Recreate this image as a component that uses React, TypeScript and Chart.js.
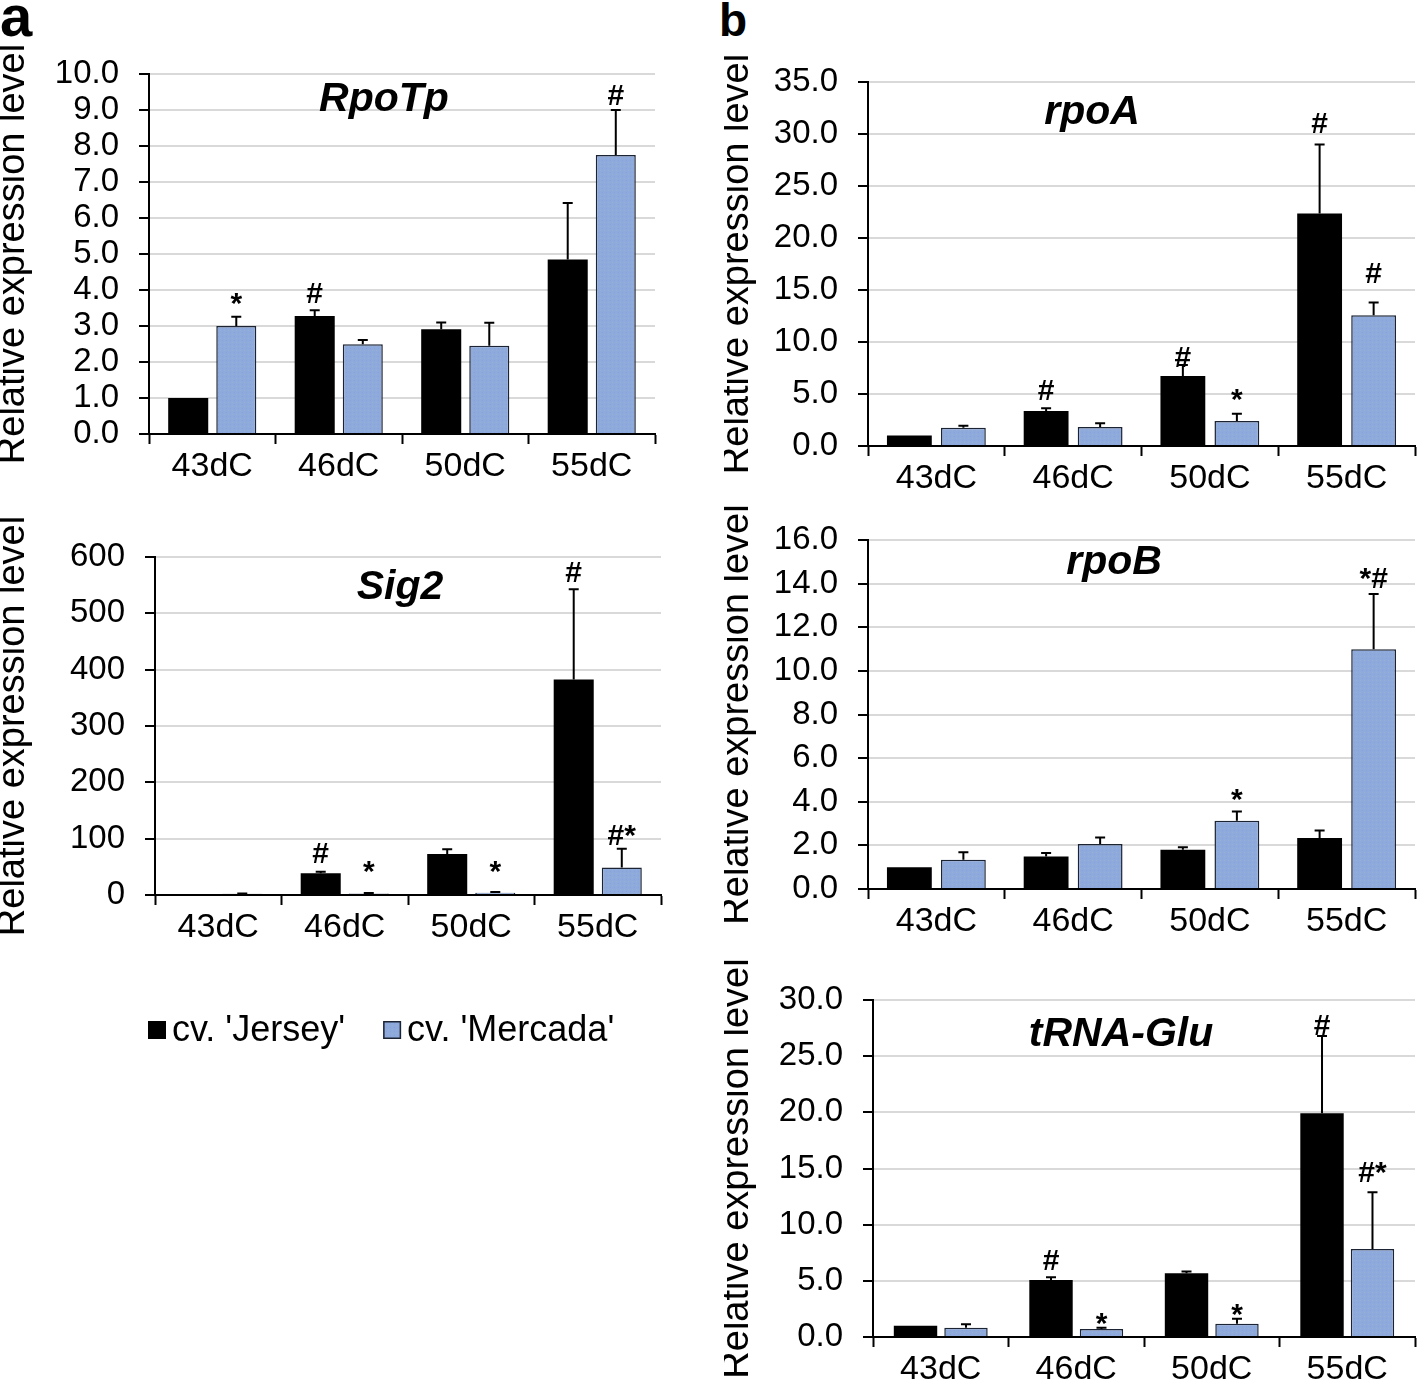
import React, { useEffect, useRef } from 'react';
import { Chart, registerables } from 'chart.js';

Chart.register(...registerables);

const FONT = "'Liberation Sans', Arial, Helvetica, sans-serif";

const categories = ['43dC', '46dC', '50dC', '55dC'];
const seriesLabels = ["cv. 'Jersey'", "cv. 'Mercada'"];
const yAxisTitle = 'Relative expression level';

// RpoTp
const rpoTpJersey = [1.0, 3.28, 2.91, 4.85];
const rpoTpJerseyErr = [0, 0.16, 0.19, 1.57];
const rpoTpMercada = [3.0, 2.49, 2.45, 7.75];
const rpoTpMercadaErr = [0.26, 0.12, 0.64, 1.25];
const rpoTpJerseyMarks = ['', '#', '', ''];
const rpoTpJerseyMarkY = [0, 3.64, 0, 0];
const rpoTpMercadaMarks = ['*', '', '', '#'];
const rpoTpMercadaMarkY = [3.36, 0, 0, 9.15];

// Sig2
const sig2Jersey = [1.0, 38.6, 73, 382.6];
const sig2JerseyErr = [0, 2.5, 8, 160];
const sig2Mercada = [2.0, 2.5, 4, 48.6];
const sig2MercadaErr = [0.5, 1, 1.5, 33.3];
const sig2JerseyMarks = ['', '#', '', '#'];
const sig2JerseyMarkY = [0, 57, 0, 555];
const sig2MercadaMarks = ['', '*', '*', '#*'];
const sig2MercadaMarkY = [0, 25, 25, 89];

// rpoA
const rpoAJersey = [1.0, 3.36, 6.72, 22.36];
const rpoAJerseyErr = [0, 0.26, 1.06, 6.64];
const rpoAMercada = [1.76, 1.83, 2.4, 12.58];
const rpoAMercadaErr = [0.19, 0.35, 0.7, 1.22];
const rpoAJerseyMarks = ['', '#', '#', '#'];
const rpoAJerseyMarkY = [0, 4.42, 7.62, 30.07];
const rpoAMercadaMarks = ['', '', '*', '#'];
const rpoAMercadaMarkY = [0, 0, 3.55, 15.66];

// rpoB
const rpoBJersey = [1.0, 1.49, 1.8, 2.34];
const rpoBJerseyErr = [0, 0.16, 0.11, 0.34];
const rpoBMercada = [1.34, 2.06, 3.13, 10.99];
const rpoBMercadaErr = [0.35, 0.3, 0.42, 2.54];
const rpoBJerseyMarks = ['', '', '', ''];
const rpoBJerseyMarkY = [0, 0, 0, 0];
const rpoBMercadaMarks = ['', '', '*', '*#'];
const rpoBMercadaMarkY = [0, 0, 3.68, 13.8];

// tRNA-Glu
const trnaJersey = [1.0, 5.07, 5.67, 19.92];
const trnaJerseyErr = [0, 0.24, 0.15, 6.88];
const trnaMercada = [0.83, 0.71, 1.19, 7.84];
const trnaMercadaErr = [0.3, 0.12, 0.44, 5.04];
const trnaJerseyMarks = ['', '#', '', '#'];
const trnaJerseyMarkY = [0, 5.97, 0, 26.9];
const trnaMercadaMarks = ['', '*', '*', '#*'];
const trnaMercadaMarkY = [0, 0.38, 1.13, 13.83];

type Panel = {
  title: string;
  jersey: number[];
  jerseyErr: number[];
  mercada: number[];
  mercadaErr: number[];
  jMarks: string[];
  jMarkY: number[];
  mMarks: string[];
  mMarkY: number[];
  yMax: number;
  yStep: number;
  decimals: number;
  left: number;
  top: number;
  width: number;
  height: number;
  yAxisW: number;
  xAxisH: number;
  padTop: number;
  padRight: number;
  titleDX: number;
  titleDY: number;
  catPct: number;
  barPct: number;
  legend?: boolean;
};

const panels: Panel[] = [
  {
    title: 'RpoTp', jersey: rpoTpJersey, jerseyErr: rpoTpJerseyErr, mercada: rpoTpMercada, mercadaErr: rpoTpMercadaErr,
    jMarks: rpoTpJerseyMarks, jMarkY: rpoTpJerseyMarkY, mMarks: rpoTpMercadaMarks, mMarkY: rpoTpMercadaMarkY,
    yMax: 10, yStep: 1, decimals: 1,
    left: 0, top: 34, width: 660, height: 460, yAxisW: 149, xAxisH: 60, padTop: 40, padRight: 5,
    titleDX: 235, titleDY: 26, catPct: 0.76, barPct: 0.833,
  },
  {
    title: 'Sig2', jersey: sig2Jersey, jerseyErr: sig2JerseyErr, mercada: sig2Mercada, mercadaErr: sig2MercadaErr,
    jMarks: sig2JerseyMarks, jMarkY: sig2JerseyMarkY, mMarks: sig2MercadaMarks, mMarkY: sig2MercadaMarkY,
    yMax: 600, yStep: 100, decimals: 0,
    left: 0, top: 517, width: 666, height: 538, yAxisW: 155, xAxisH: 160, padTop: 40, padRight: 5,
    titleDX: 245, titleDY: 31, catPct: 0.76, barPct: 0.833, legend: true,
  },
  {
    title: 'rpoA', jersey: rpoAJersey, jerseyErr: rpoAJerseyErr, mercada: rpoAMercada, mercadaErr: rpoAMercadaErr,
    jMarks: rpoAJerseyMarks, jMarkY: rpoAJerseyMarkY, mMarks: rpoAMercadaMarks, mMarkY: rpoAMercadaMarkY,
    yMax: 35, yStep: 5, decimals: 1,
    left: 724, top: 42, width: 694, height: 464, yAxisW: 144, xAxisH: 60, padTop: 40, padRight: 3,
    titleDX: 224, titleDY: 31, catPct: 0.79, barPct: 0.83,
  },
  {
    title: 'rpoB', jersey: rpoBJersey, jerseyErr: rpoBJerseyErr, mercada: rpoBMercada, mercadaErr: rpoBMercadaErr,
    jMarks: rpoBJerseyMarks, jMarkY: rpoBJerseyMarkY, mMarks: rpoBMercadaMarks, mMarkY: rpoBMercadaMarkY,
    yMax: 16, yStep: 2, decimals: 1,
    left: 724, top: 500, width: 694, height: 449, yAxisW: 144, xAxisH: 60, padTop: 40, padRight: 3,
    titleDX: 246, titleDY: 23, catPct: 0.79, barPct: 0.83,
  },
  {
    title: 'tRNA-Glu', jersey: trnaJersey, jerseyErr: trnaJerseyErr, mercada: trnaMercada, mercadaErr: trnaMercadaErr,
    jMarks: trnaJerseyMarks, jMarkY: trnaJerseyMarkY, mMarks: trnaMercadaMarks, mMarkY: trnaMercadaMarkY,
    yMax: 30, yStep: 5, decimals: 1,
    left: 724, top: 960, width: 694, height: 422, yAxisW: 149, xAxisH: 45, padTop: 40, padRight: 3,
    titleDX: 248, titleDY: 35, catPct: 0.745, barPct: 0.86,
  },
];

function makePattern(): CanvasPattern | string {
  const c = document.createElement('canvas');
  c.width = 4;
  c.height = 4;
  const g = c.getContext('2d');
  if (!g) return '#8eaadc';
  g.fillStyle = '#8eaadc';
  g.fillRect(0, 0, 4, 4);
  g.fillStyle = '#9aaed2';
  g.fillRect(0, 0, 1, 1);
  g.fillStyle = '#86a4da';
  g.fillRect(2, 2, 1, 1);
  return g.createPattern(c, 'repeat') || '#8eaadc';
}

function ChartPanel({ p }: { p: Panel }) {
  const ref = useRef<HTMLCanvasElement | null>(null);

  useEffect(() => {
    if (!ref.current) return;
    const blue = makePattern();

    const overlay = {
      id: 'overlay',
      afterDatasetsDraw(chart: any) {
        const ctx = chart.ctx;
        const y = chart.scales.y;
        const vals = [p.jersey, p.mercada];
        const errs = [p.jerseyErr, p.mercadaErr];
        const marks = [p.jMarks, p.mMarks];
        const markY = [p.jMarkY, p.mMarkY];
        ctx.save();
        for (let d = 0; d < 2; d++) {
          const meta = chart.getDatasetMeta(d);
          meta.data.forEach((bar: any, i: number) => {
            const e = errs[d][i];
            if (e > 0) {
              const yTop = y.getPixelForValue(vals[d][i] + e);
              ctx.strokeStyle = '#000';
              ctx.lineWidth = 2;
              ctx.beginPath();
              ctx.moveTo(bar.x, bar.y);
              ctx.lineTo(bar.x, yTop);
              ctx.moveTo(bar.x - 5, yTop);
              ctx.lineTo(bar.x + 5, yTop);
              ctx.stroke();
            }
            const m = marks[d][i];
            if (m) {
              ctx.fillStyle = '#000';
              ctx.font = `bold 30px ${FONT}`;
              ctx.textAlign = 'center';
              ctx.textBaseline = 'alphabetic';
              ctx.fillText(m, bar.x, y.getPixelForValue(markY[d][i]));
            }
          });
        }
        const area = chart.chartArea;
        ctx.fillStyle = '#000';
        ctx.font = `italic bold 41px ${FONT}`;
        ctx.textAlign = 'center';
        ctx.textBaseline = 'middle';
        ctx.fillText(p.title, area.left + p.titleDX, area.top + p.titleDY);
        ctx.restore();
      },
      afterDraw(chart: any) {
        if (!p.legend) return;
        const ctx = chart.ctx;
        const area = chart.chartArea;
        const cy = area.bottom + 135;
        let x = area.left - 7;
        ctx.save();
        ctx.font = `36px ${FONT}`;
        ctx.textBaseline = 'middle';
        ctx.textAlign = 'left';
        chart.data.datasets.forEach((ds: any) => {
          ctx.fillStyle = ds.backgroundColor;
          ctx.fillRect(x, cy - 9, 18, 18);
          if (ds.borderWidth) {
            ctx.strokeStyle = ds.borderColor;
            ctx.lineWidth = 1.5;
            ctx.strokeRect(x + 0.75, cy - 8.25, 16.5, 16.5);
          }
          ctx.fillStyle = '#000';
          ctx.fillText(ds.label, x + 24, cy + 1);
          x += 24 + ctx.measureText(ds.label).width + 38;
        });
        ctx.restore();
      },
    };

    const chart = new Chart(ref.current, {
      type: 'bar',
      data: {
        labels: categories,
        datasets: [
          {
            label: seriesLabels[0],
            data: p.jersey,
            backgroundColor: '#000000',
            borderWidth: 0,
            categoryPercentage: p.catPct,
            barPercentage: p.barPct,
          },
          {
            label: seriesLabels[1],
            data: p.mercada,
            backgroundColor: blue as any,
            borderColor: '#1c2433',
            borderWidth: 1.5,
            categoryPercentage: p.catPct,
            barPercentage: p.barPct,
          },
        ],
      },
      options: {
        responsive: false,
        animation: false,
        devicePixelRatio: 1,
        layout: { padding: { top: p.padTop, right: p.padRight, left: 0, bottom: 0 } },
        plugins: {
          legend: { display: false },
          tooltip: { enabled: false },
          title: { display: false },
        },
        scales: {
          x: {
            type: 'category',
            offset: true,
            grid: {
              display: true,
              offset: true,
              drawOnChartArea: false,
              drawTicks: true,
              tickLength: 10,
              tickColor: '#000',
              tickWidth: 2,
              color: '#000',
            },
            border: { display: true, color: '#000', width: 2 },
            ticks: {
              color: '#000',
              font: { size: 34, family: FONT },
              padding: 2,
              maxRotation: 0,
              autoSkip: false,
            },
            afterFit: (s: any) => {
              s.height = p.xAxisH;
            },
          },
          y: {
            type: 'linear',
            min: 0,
            max: p.yMax,
            ticks: {
              stepSize: p.yStep,
              color: '#000',
              font: { size: 33, family: FONT },
              padding: 20,
              autoSkip: false,
              callback: (v: any) => Number(v).toFixed(p.decimals),
            },
            grid: {
              color: '#d9d9d9',
              lineWidth: 2,
              drawTicks: true,
              tickLength: 10,
              tickColor: '#000',
              tickWidth: 2,
            },
            border: { display: true, color: '#000', width: 2 },
            title: {
              display: true,
              text: yAxisTitle,
              color: '#000',
              font: { size: 38, family: FONT, lineHeight: 0.7 },
              padding: 0,
            },
            afterFit: (s: any) => {
              s.width = p.yAxisW;
            },
          },
        },
      },
      plugins: [overlay],
    } as any);

    return () => {
      chart.destroy();
    };
  }, [p]);

  return (
    <canvas
      ref={ref}
      width={p.width}
      height={p.height}
      style={{ position: 'absolute', left: p.left, top: p.top, width: p.width, height: p.height }}
    />
  );
}

export default function App() {
  return (
    <div
      style={{
        position: 'absolute',
        left: 0,
        top: 0,
        width: 1418,
        height: 1382,
        background: '#ffffff',
        overflow: 'hidden',
        fontFamily: FONT,
      }}
    >
      <div style={{ position: 'absolute', left: 0, top: -13, fontSize: 58, lineHeight: '58px', fontWeight: 'bold', color: '#000' }}>a</div>
      <div style={{ position: 'absolute', left: 719, top: -3, fontSize: 46, lineHeight: '46px', fontWeight: 'bold', color: '#000' }}>b</div>
      {panels.map((p) => (
        <ChartPanel key={p.title} p={p} />
      ))}
    </div>
  );
}
